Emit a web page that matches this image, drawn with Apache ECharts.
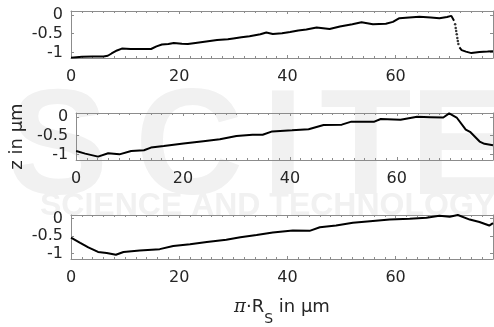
<!DOCTYPE html>
<html>
<head>
<meta charset="utf-8">
<script src="https://cdn.jsdelivr.net/npm/echarts@6/dist/echarts.min.js"></script>
<style>
  html, body { margin: 0; padding: 0; background: #fff; }
  #chart { width: 494px; height: 327px; }
</style>
</head>
<body>
<div id="chart"></div>
<script>
// profiles, [x in µm, z in µm]
// top panel: line, then a dotted step down, then line again
var topBefore = [[0, -1.14], [1, -1.13], [2, -1.12], [4, -1.11], [6, -1.11], [6.8, -1.09], [7.5, -1.03],
  [8.5, -0.95], [9.4, -0.9], [11, -0.91], [13, -0.91], [14.8, -0.91], [15.8, -0.84], [16.8, -0.79],
  [18, -0.78], [19, -0.75], [20.5, -0.77], [21.6, -0.78], [23, -0.75], [25, -0.71], [27, -0.67],
  [29, -0.65], [30, -0.63], [31.5, -0.6], [33, -0.57], [35, -0.52], [36.1, -0.47], [37.3, -0.51],
  [39, -0.49], [40.5, -0.46], [42, -0.42], [43.5, -0.39], [45.4, -0.34], [47.8, -0.38], [49.7, -0.31],
  [52, -0.25], [53.7, -0.2], [55.8, -0.25], [58.2, -0.24], [59.5, -0.19], [60.7, -0.09], [62.5, -0.07],
  [64.4, -0.05], [66.5, -0.07], [68.1, -0.09], [69.5, -0.06], [70.3, -0.03], [70.8, -0.16]];
var topDrop = [[71.0, -0.25], [71.1, -0.35], [71.2, -0.43], [71.3, -0.52], [71.4, -0.62], [71.5, -0.7], [71.6, -0.78]];
var topAfter = [[71.8, -0.87], [72.2, -0.94], [73, -0.98], [74, -1.02], [75.5, -0.99], [77, -0.98], [78, -0.97]];

var midProfile = [[0, -0.91], [1.7, -0.98], [4.1, -1.06], [6, -0.97], [8.1, -1.0], [10.3, -0.91], [12.7, -0.89],
  [14, -0.82], [16.4, -0.78], [20.1, -0.71], [23.8, -0.65], [26.9, -0.6], [30, -0.51], [33, -0.48],
  [34.9, -0.48], [36.7, -0.39], [40.4, -0.36], [43.5, -0.33], [46.3, -0.22], [49.7, -0.21], [51.5, -0.13],
  [55.8, -0.13], [57, -0.06], [60.7, -0.08], [63.8, 0.0], [66.3, -0.01], [68.7, -0.02], [69.8, 0.09],
  [71.2, -0.02], [72.9, -0.34], [73.7, -0.4], [75.5, -0.66], [76.4, -0.72], [78, -0.76]];

var botProfile = [[0, -0.54], [1.7, -0.69], [3.2, -0.82], [5, -0.95], [6.6, -0.98], [8.3, -1.03], [9.7, -0.95],
  [12.7, -0.91], [16.4, -0.87], [18.9, -0.78], [22, -0.73], [25.1, -0.67], [28.7, -0.6], [31.3, -0.53],
  [34.3, -0.47], [37.3, -0.4], [41, -0.34], [44.1, -0.35], [46, -0.25], [49, -0.2], [52.1, -0.12],
  [55.8, -0.07], [58.9, -0.03], [62.6, -0.01], [65.7, 0.02], [68.1, 0.08], [70, 0.05], [71.5, 0.1],
  [73.7, -0.03], [75.5, -0.1], [77.3, -0.2], [78, -0.13]];

var yTicks = [-1, -0.5, 0];

var gridTops = [11, 113, 215];
var font = 'DejaVu Sans, sans-serif';
var frameColor = '#8c8c8c';

var chart = echarts.init(document.getElementById('chart'));

var grids = [], xAxes = [], yAxes = [];
for (var i = 0; i < 3; i++) {
  grids.push({ left: 71, right: 1, top: gridTops[i], height: 47 });
  // bottom and top x axes (top one only draws the frame and ticks)
  [false, true].forEach(function (isTop) {
    xAxes.push({
      type: 'value', gridIndex: i, min: 0, max: 78, interval: 20,
      position: isTop ? 'top' : 'bottom',
      name: (!isTop && i === 2) ? '{p|π}{a|·R}{s|S}{a| in µm}' : '',
      nameLocation: 'middle', nameGap: 39,
      nameTextStyle: {
        fontFamily: font, color: '#262626',
        rich: {
          p: { fontSize: 18, fontFamily: 'DejaVu Serif, serif', fontStyle: 'italic', verticalAlign: 'top', color: '#262626' },
          a: { fontSize: 18, fontFamily: font, verticalAlign: 'top', color: '#262626' },
          s: { fontSize: 14, fontFamily: font, verticalAlign: 'top', padding: [14, 0, 0, 0], color: '#262626' }
        }
      },
      axisLine: { show: true, onZero: false, lineStyle: { color: frameColor, width: 1 } },
      axisTick: { show: true, inside: true, length: 3, lineStyle: { color: frameColor } },
      minorTick: { show: true, splitNumber: 10, length: 2, lineStyle: { color: frameColor } },
      axisLabel: { show: !isTop, showMaxLabel: false, fontSize: 16, fontFamily: font, color: '#262626', margin: 11 },
      splitLine: { show: false }
    });
  });
  // left and right y axes
  [false, true].forEach(function (isRight) {
    yAxes.push({
      type: 'value', gridIndex: i, min: -1.15, max: 0.1,
      position: isRight ? 'right' : 'left',
      name: (!isRight && i === 1) ? 'z in µm' : '',
      nameLocation: 'middle', nameGap: 48, nameRotate: 90,
      nameTextStyle: { fontFamily: font, fontSize: 18, color: '#262626' },
      axisLine: { show: true, onZero: false, lineStyle: { color: frameColor, width: 1 } },
      axisTick: { show: true, inside: true, length: 3, customValues: yTicks, lineStyle: { color: frameColor } },
      axisLabel: { show: !isRight, customValues: yTicks, fontSize: 16, fontFamily: font, color: '#262626', margin: 8 },
      splitLine: { show: false }
    });
  });
}

function profileLine(data, idx) {
  return {
    type: 'line', data: data, xAxisIndex: idx * 2, yAxisIndex: idx * 2,
    symbol: 'none', lineStyle: { color: '#000', width: 2 }, animation: false, z: 3
  };
}

// faint publisher watermark behind the plots
var wm = '#f1f1f1';
chart.setOption({
  animation: false,
  graphic: [
    { type: 'text', z: -10, style: { x: 8, y: 78, text: 'S', font: 'bold 150px Liberation Sans', fill: wm } },
    { type: 'text', z: -10, style: { x: 135, y: 78, text: 'C', font: 'bold 150px Liberation Sans', fill: wm } },
    { type: 'text', z: -10, style: { x: 262, y: 78, text: 'I', font: 'bold 150px Liberation Sans', fill: wm } },
    { type: 'text', z: -10, style: { x: 320, y: 78, text: 'T', font: 'bold 150px Liberation Sans', fill: wm } },
    { type: 'text', z: -10, style: { x: 410, y: 78, text: 'E', font: 'bold 150px Liberation Sans', fill: wm } },
    { type: 'text', z: -10, style: { x: 40, y: 190, text: 'SCIENCE AND TECHNOLOGY', font: 'bold 32px Liberation Sans', fill: wm } }
  ],
  grid: grids,
  xAxis: xAxes,
  yAxis: yAxes,
  series: [
    profileLine(topBefore, 0),
    {
      type: 'scatter', data: topDrop, xAxisIndex: 0, yAxisIndex: 0,
      symbolSize: 2.5, itemStyle: { color: '#000' }, z: 3
    },
    profileLine(topAfter, 0),
    profileLine(midProfile, 1),
    profileLine(botProfile, 2)
  ]
});
</script>
</body>
</html>
